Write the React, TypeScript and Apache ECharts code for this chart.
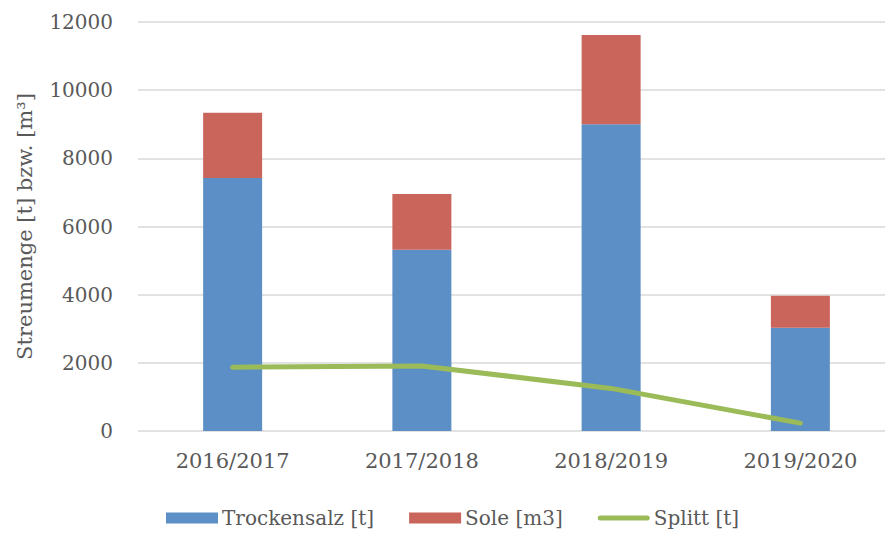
import React, { useEffect, useRef } from "react";
import * as echarts from "echarts";

const categories = ["2016/2017", "2017/2018", "2018/2019", "2019/2020"];
const trockensalz = [7420, 5320, 9000, 3030];
const sole = [1920, 1630, 2620, 940];
const splitt = [1870, 1910, 1250, 230];
const yTicks = { min: 0, max: 12000, interval: 2000 };

const FONT = "DejaVu Serif";
const TEXT = "#595959";

export default function App() {
  const ref = useRef<HTMLDivElement>(null);
  useEffect(() => {
    if (!ref.current) return;
    const chart = echarts.init(ref.current, undefined, { renderer: "svg" });
    chart.setOption({
      animation: false,
      grid: { left: 138, top: 22, width: 757, height: 409 },
      legend: {
        bottom: 0,
        left: 161,
        itemWidth: 52,
        itemHeight: 11,
        itemGap: 35,
        textStyle: { fontFamily: FONT, fontSize: 20, color: TEXT, padding: [0, 0, 0, -1] },
        data: [
          { name: "Trockensalz [t]", icon: "rect" },
          { name: "Sole [m3]", icon: "rect" },
          { name: "Splitt [t]", icon: "path://M2.5,0 L49.5,0 A2.5,2.5 0 0 1 49.5,5 L2.5,5 A2.5,2.5 0 0 1 2.5,0 Z" },
        ],
      },
      xAxis: {
        type: "category",
        data: categories,
        axisLine: { show: false },
        axisTick: { show: false },
        axisLabel: { fontFamily: FONT, fontSize: 21, color: TEXT, margin: 19 },
      },
      yAxis: {
        type: "value",
        min: yTicks.min,
        max: yTicks.max,
        interval: yTicks.interval,
        name: "Streumenge [t] bzw. [m³]",
        nameLocation: "middle",
        nameGap: 103,
        nameTextStyle: { fontFamily: FONT, fontSize: 21, color: TEXT },
        axisLabel: {
          fontFamily: FONT,
          fontSize: 20,
          color: TEXT,
          margin: 25,
          formatter: (v: number) => String(v),
        },
        splitLine: { lineStyle: { color: "#d9d9d9", width: 1.5 } },
      },
      series: [
        {
          name: "Trockensalz [t]",
          type: "bar",
          stack: "total",
          barWidth: 59,
          data: trockensalz,
          itemStyle: { color: "#5b8fc5" },
        },
        {
          name: "Sole [m3]",
          type: "bar",
          stack: "total",
          barWidth: 59,
          data: sole,
          itemStyle: { color: "#ca655b" },
        },
        {
          name: "Splitt [t]",
          type: "line",
          data: splitt,
          symbol: "none",
          lineStyle: { color: "#9bbb59", width: 5, cap: "round" },
          itemStyle: { color: "#9bbb59" },
        },
      ],
    });
    return () => chart.dispose();
  }, []);
  return (
    <div
      ref={ref}
      style={{ position: "fixed", left: 0, top: 0, width: 900, height: 533, background: "#fff" }}
    />
  );
}
